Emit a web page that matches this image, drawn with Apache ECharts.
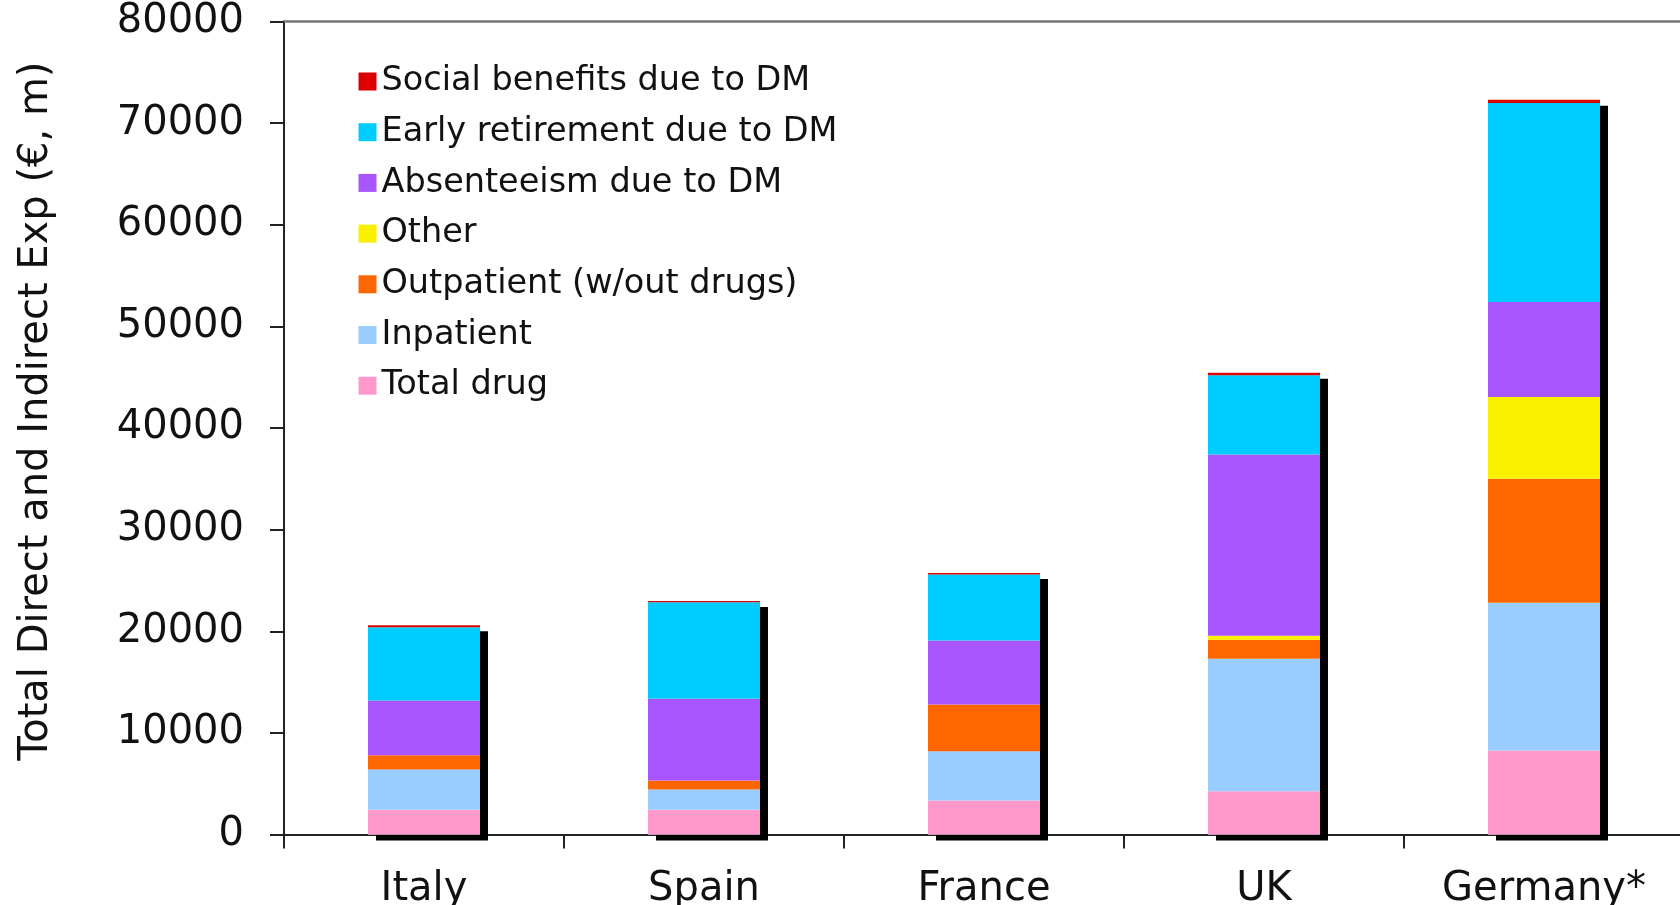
<!DOCTYPE html>
<html>
<head>
<meta charset="utf-8">
<script src="https://cdn.jsdelivr.net/npm/echarts@6/dist/echarts.min.js"></script>
<style>
html,body{margin:0;padding:0;background:#fff;}
#chart{width:1680px;height:905px;}
</style>
</head>
<body>
<div id="chart"></div>
<script>
const categories = ['Italy', 'Spain', 'France', 'UK', 'Germany*'];
const totalDrug     = [2430, 2430, 3350, 4260, 8270];
const inpatient     = [3970, 2000, 4850, 13030, 14530];
const outpatient    = [1400, 880, 4600, 1870, 12210];
const other         = [0, 0, 0, 400, 8030];
const absenteeism   = [5390, 8050, 6290, 17840, 9350];
const earlyRetire   = [7210, 9500, 6500, 7780, 19590];
const socialBenef   = [200, 120, 150, 250, 330];
const yTicks = [0, 10000, 20000, 30000, 40000, 50000, 60000, 70000, 80000];

const seriesDefs = [
  { name: 'Total drug', data: totalDrug, color: '#FF99CC' },
  { name: 'Inpatient', data: inpatient, color: '#99CCFF' },
  { name: 'Outpatient (w/out drugs)', data: outpatient, color: '#FF6600' },
  { name: 'Other', data: other, color: '#FBF000' },
  { name: 'Absenteeism due to DM', data: absenteeism, color: '#A855FF' },
  { name: 'Early retirement due to DM', data: earlyRetire, color: '#00CCFF' },
  { name: 'Social benefits due to DM', data: socialBenef, color: '#DD0000' }
];
const totals = categories.map((c, i) => seriesDefs.reduce((s, d) => s + d.data[i], 0));

const FONT = '"DejaVu Sans", Verdana, sans-serif';
const chart = echarts.init(document.getElementById('chart'), null, { renderer: 'canvas' });

const series = [{
  name: 'shadow',
  type: 'bar',
  xAxisIndex: 1,
  data: totals,
  barWidth: '40%',
  z: 1,
  silent: true,
  itemStyle: { color: '#fff', shadowColor: '#000', shadowBlur: 0, shadowOffsetX: 8, shadowOffsetY: 6 }
}].concat(seriesDefs.map(d => ({
  name: d.name,
  type: 'bar',
  stack: 'total',
  xAxisIndex: 0,
  data: d.data,
  barWidth: '40%',
  z: 3,
  itemStyle: { color: d.color }
})));

chart.setOption({
  animation: false,
  backgroundColor: '#fff',
  grid: { left: 284, top: 21.5, width: 1400, height: 813, containLabel: false, outerBoundsMode: 'none' },
  legend: {
    orient: 'vertical',
    left: 353.5,
    top: 59.5,
    icon: 'rect',
    itemWidth: 18,
    itemHeight: 18,
    itemGap: 16.7,
    data: ['Social benefits due to DM', 'Early retirement due to DM', 'Absenteeism due to DM', 'Other', 'Outpatient (w/out drugs)', 'Inpatient', 'Total drug'],
    textStyle: { fontFamily: FONT, fontSize: 33.5, color: '#111', lineHeight: 34, padding: [0, 0, 0, 0] }
  },
  xAxis: [{
    type: 'category',
    data: categories,
    position: 'bottom',
    axisLine: { lineStyle: { color: '#222', width: 2 } },
    axisTick: { show: true, length: 14, lineStyle: { color: '#222', width: 2 } },
    axisLabel: { fontFamily: FONT, fontSize: 40, color: '#111', margin: 35 }
  }, {
    type: 'category',
    data: categories,
    position: 'top',
    axisLine: { lineStyle: { color: '#777', width: 2.5 } },
    axisTick: { show: false },
    axisLabel: { show: false }
  }],
  yAxis: {
    type: 'value',
    min: yTicks[0],
    max: yTicks[yTicks.length - 1],
    interval: yTicks[1] - yTicks[0],
    splitLine: { show: false },
    axisLine: { show: true, lineStyle: { color: '#222', width: 2 } },
    axisTick: { show: true, length: 14, lineStyle: { color: '#222', width: 2 } },
    axisLabel: { fontFamily: FONT, fontSize: 40, color: '#111', margin: 40, formatter: v => String(v) }
  },
  graphic: [{
    type: 'text',
    x: 37,
    y: 411,
    rotation: Math.PI / 2,
    style: {
      text: 'Total Direct and Indirect Exp (€, m)',
      font: '40px "DejaVu Sans", Verdana, sans-serif',
      fill: '#111',
      align: 'center',
      verticalAlign: 'middle',
      textAlign: 'center',
      textVerticalAlign: 'middle'
    }
  }],
  series: series
});
</script>
</body>
</html>
